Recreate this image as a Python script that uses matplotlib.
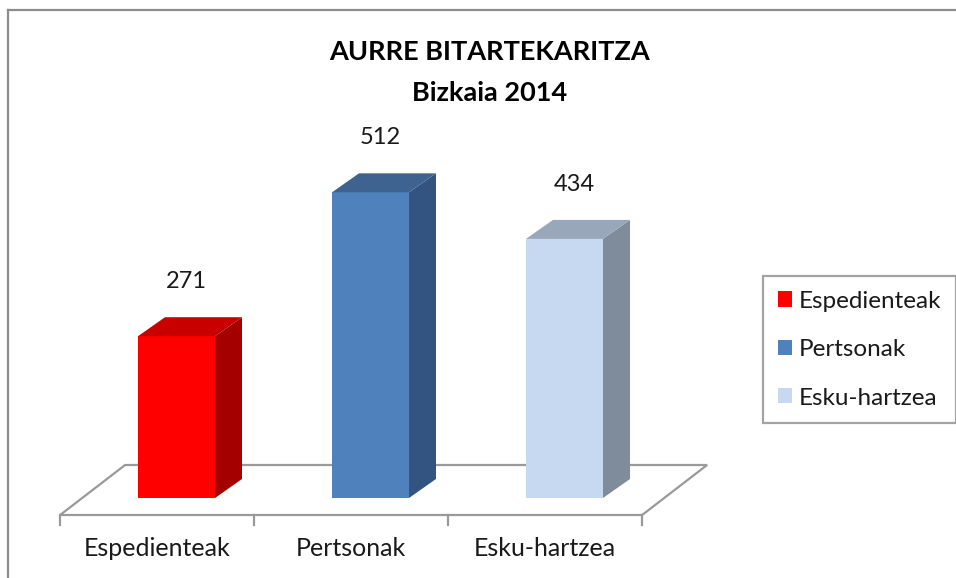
import matplotlib
matplotlib.use("Agg")
import matplotlib.pyplot as plt
from matplotlib.patches import Polygon, Patch

# ---- data ----
title_lines = ["AURRE BITARTEKARITZA", "Bizkaia 2014"]
categories = ["Espedienteak", "Pertsonak", "Esku-hartzea"]
values = [271, 512, 434]
front_colors = ["#FF0000", "#4F81BD", "#C6D9F0"]
side_colors = ["#A50000", "#335381", "#7F8C9C"]
top_colors = ["#C80000", "#3E6390", "#98A7B9"]

plt.rcParams["font.family"] = ["Lato", "DejaVu Sans"]

W, H = 956, 578
fig = plt.figure(figsize=(W / 100, H / 100), dpi=100)
ax = fig.add_axes([0, 0, 1, 1])
px_x = 194.0      # pixels per category step
x0_px = 176.5     # pixel of first bar centre
px_y = 0.597      # pixels per value unit
y0_px = 80        # pixel (from bottom) of value 0
ax.set_xlim(-x0_px / px_x, (W - x0_px) / px_x)
ax.set_ylim(-y0_px / px_y, (H - y0_px) / px_y)
ax.axis("off")

n = len(categories)
bw = 77 / px_x          # front face width
ddx = 27 / px_x         # depth offset x
ddy = 19 / px_y         # depth offset y

# floor (3D plane)
fy0 = -17 / px_y
fy1 = 33 / px_y
fshift = 65 / px_x
fl, fr = -0.6, n - 0.6
floor = Polygon([(fl, fy0), (fr, fy0), (fr + fshift, fy1), (fl + fshift, fy1)],
                closed=True, facecolor="white", edgecolor="#9a9a9a", lw=1.6, zorder=1)
ax.add_patch(floor)
tick_len = 10 / px_y
for k in range(n + 1):
    ax.plot([fl + k, fl + k], [fy0, fy0 - tick_len], color="#9a9a9a", lw=1.6, zorder=1)

# bars
bars = ax.bar(range(n), values, width=bw, color=front_colors, zorder=3, linewidth=0)
for i, (v, sc, tc) in enumerate(zip(values, side_colors, top_colors)):
    xl, xr = i - bw / 2, i + bw / 2
    side = Polygon([(xr, 0), (xr + ddx, ddy), (xr + ddx, v + ddy), (xr, v)],
                   closed=True, facecolor=sc, edgecolor="none", zorder=3)
    top = Polygon([(xl, v), (xr, v), (xr + ddx, v + ddy), (xl + ddx, v + ddy)],
                  closed=True, facecolor=tc, edgecolor="none", zorder=3)
    ax.add_patch(side)
    ax.add_patch(top)
    ax.text(i + 0.05, v + ddy + 60, str(v), ha="center", va="center",
            fontsize=17, color="#1a1a1a", zorder=4)

# category labels (centred between floor ticks)
for i, c in enumerate(categories):
    ax.text(fl + i + 0.5, -50 / px_y, c, ha="center", va="center",
            fontsize=18, color="#1a1a1a")

# title
fig.text(490 / W, 1 - 52 / H, title_lines[0], ha="center", va="center",
         fontsize=19.5, fontweight="bold", color="#000000")
fig.text(490 / W, 1 - 93 / H, title_lines[1], ha="center", va="center",
         fontsize=19.5, fontweight="bold", color="#000000")

# outer chart border (top and left visible)
fig.add_artist(plt.Line2D([8 / W, 1], [1 - 10 / H, 1 - 10 / H], transform=fig.transFigure,
                          color="#8c8c8c", lw=1.6))
fig.add_artist(plt.Line2D([8 / W, 8 / W], [0, 1 - 10 / H], transform=fig.transFigure,
                          color="#8c8c8c", lw=1.6))

# legend
handles = [Patch(facecolor=c, edgecolor="none") for c in front_colors]
leg = fig.legend(handles, categories, loc="upper left",
                 bbox_to_anchor=(763 / W, 1 - 276 / H), borderaxespad=0,
                 fontsize=17.5, frameon=True, fancybox=False, handlelength=0.58,
                 handleheight=0.58, handletextpad=0.3, labelspacing=1.13,
                 borderpad=0.6)
leg.get_frame().set_edgecolor("#8c8c8c")
leg.get_frame().set_linewidth(1.6)
for t in leg.get_texts():
    t.set_color("#1a1a1a")

fig.savefig("out.png", dpi=100)
